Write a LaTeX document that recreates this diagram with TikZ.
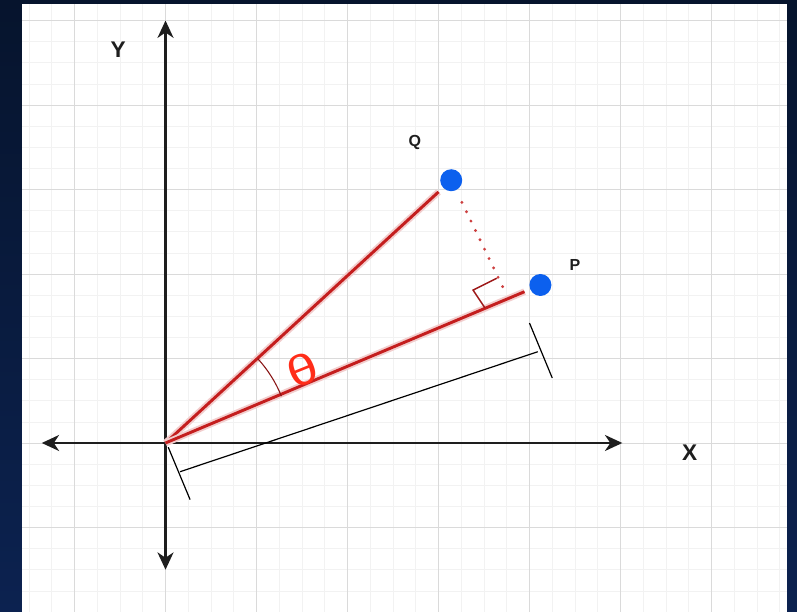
\documentclass[tikz,border=0pt]{standalone}
\usepackage{fontspec}
\setmainfont{Liberation Sans}
\usetikzlibrary{arrows.meta}
\definecolor{navytop}{RGB}{6,20,45}
\definecolor{navybot}{RGB}{12,34,80}
\definecolor{gridminor}{RGB}{242,242,242}
\definecolor{gridmajor}{RGB}{218,218,218}
\definecolor{axisgray}{RGB}{30,30,30}
\definecolor{rayred}{RGB}{196,30,30}
\definecolor{thetared}{RGB}{255,45,25}
\definecolor{dotblue}{RGB}{12,96,238}
\definecolor{labelgray}{RGB}{30,30,30}
\begin{document}
\begin{tikzpicture}[x=68.25pt, y=63.375pt,
    axis/.style = {draw=axisgray, line width=1.6pt,
      {Stealth[length=13pt,width=12pt,inset=4pt]}-{Stealth[length=13pt,width=12pt,inset=4pt]}},
    ray/.style = {draw=rayred, line width=2.2pt, shorten >=4.5pt,
      preaction={draw=rayred!22, line width=5pt, shorten >=4.5pt}},
    perp/.style = {draw=rayred!85, line width=2.4pt, line cap=round,
      dash pattern=on 0pt off 7.8pt, shorten <=10pt},
    rightmark/.style = {draw=rayred!80!black, line width=1.1pt},
    anglearc/.style = {draw=rayred!70!black, line width=0.8pt},
    dimline/.style = {draw=black, line width=0.9pt},
    dot/.style = {circle, fill=dotblue, minimum size=16.5pt, inner sep=0pt},
    axlbl/.style = {text=labelgray, font=\fontsize{17}{17}\selectfont\bfseries},
    ptlbl/.style = {text=labelgray, font=\fontsize{12}{12}\selectfont\bfseries},
    thetalbl/.style = {text=thetared, font=\fontsize{32}{32}\selectfont}]
  % background and grid paper
  \fill[top color=navytop, bottom color=navybot] (-1.819,-2.0) rectangle (6.940,5.243);
  \fill[white] (-1.577,-2.0) rectangle (6.83,5.195);
  \begin{scope}
    \clip (-1.577,-2.0) rectangle (6.83,5.195);
    \draw[gridminor, line width=0.5pt, step=0.25] (-2,-2) grid (7,6);
    \draw[gridmajor, line width=0.7pt, step=1] (-2,-2) grid (7,6);
  \end{scope}
  % axes
  \coordinate (O) at (0,0);
  \coordinate (xl) at (-1.36,0);
  \coordinate (xr) at (5.02,0);
  \coordinate (yb) at (0,-1.5);
  \coordinate (yt) at (0,5.0);
  \draw[axis] (xl) -- (xr);
  \draw[axis] (yb) -- (yt);
  \node[axlbl] (X) at (5.76,-0.12) {X};
  \node[axlbl] (Y) at (-0.52,4.65) {Y};
  % measuring bar along OP
  \coordinate (d1) at (0.16,-0.34);
  \coordinate (d2) at (4.09,1.08);
  \coordinate (t1a) at (0.03,-0.05);
  \coordinate (t1b) at (0.27,-0.67);
  \coordinate (t2a) at (4.0,1.42);
  \coordinate (t2b) at (4.25,0.77);
  \draw[dimline] (d1) -- (d2);
  \draw[dimline] (t1a) -- (t1b);
  \draw[dimline] (t2a) -- (t2b);
  % points and rays
  \node[dot] (Q) at (3.14,3.11) {};
  \node[dot] (P) at (4.12,1.87) {};
  \node[ptlbl] (Qlbl) at (2.74,3.56) {Q};
  \node[ptlbl] (Plbl) at (4.50,2.11) {P};
  \draw[ray] (O) -- (Q);
  \draw[ray] (O) -- (P);
  % projection of Q on OP
  \coordinate (F) at (3.75,1.75);
  \draw[perp] (Q) -- (F);
  \coordinate (m1) at (3.64,1.95);
  \coordinate (m2) at (3.38,1.81);
  \coordinate (m3) at (3.51,1.60);
  \draw[rightmark] (m1) -- (m2) -- (m3);
  % angle
  \draw[anglearc] (O) ++(22:93.75pt) arc[start angle=22, end angle=42.4, radius=93.75pt];
  \node[thetalbl, rotate=22, xscale=1.25] (theta) at (1.51,0.87) {θ};
\end{tikzpicture}
\end{document}
